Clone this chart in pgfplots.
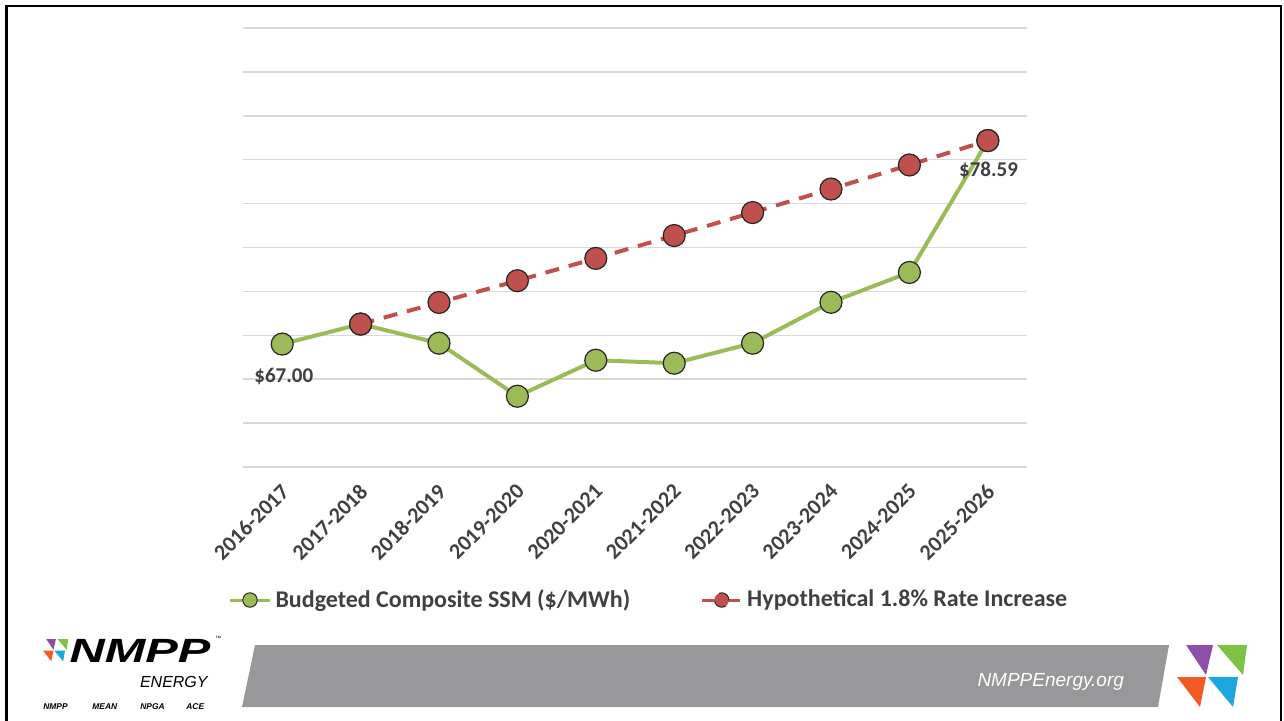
\documentclass[border=0pt]{standalone}
\usepackage{fontspec}
\setmainfont{Carlito}
\newfontfamily\arialfont{Liberation Sans}
\usepackage{pgfplots}
\pgfplotsset{compat=1.18}
\usepackage{pgfplotstable}

\definecolor{ssmgreen}{HTML}{9BBB59}
\definecolor{ratered}{HTML}{C0504D}
\definecolor{txtgray}{HTML}{404040}
\definecolor{gridgray}{HTML}{D9D9D9}
\definecolor{bannergray}{HTML}{98989A}
\definecolor{logopurple}{HTML}{8E4FA8}
\definecolor{logogreen}{HTML}{7DC242}
\definecolor{logoorange}{HTML}{F15A22}
\definecolor{logoblue}{HTML}{1BA6DE}

% budgeted composite SSM ($/MWh)
\pgfplotstableread{
x y
0 67.00
1 68.14
2 67.05
3 64.03
4 66.08
5 65.91
6 67.05
7 69.38
8 71.08
9 78.59
}\ssmdata

% hypothetical 1.8% yearly increase
\pgfplotstableread{
x y
1 68.14
2 69.37
3 70.61
4 71.88
5 73.18
6 74.49
7 75.83
8 77.20
9 78.59
}\ratedata

% four triangles of the logo, origin at top left, y down
\newcommand{\logotris}{%
  \fill[logopurple] (9,0) -- (36,0) -- (29,30) -- cycle;
  \fill[logogreen] (40,0) -- (70,0) -- (66,30) -- cycle;
  \fill[logoorange] (0,32) -- (29,32) -- (23,62) -- cycle;
  \fill[logoblue] (31,32) -- (61,32) -- (56,62) -- cycle;
}

\begin{document}
\begin{tikzpicture}
% page decorations, in pixels of the slide (y down)
\begin{scope}[x=0.5pt, y=-0.5pt]
  \useasboundingbox (0,0) rectangle (1284,721);
  \draw[line width=1.25pt] (6.5,721) -- (6.5,6) -- (1281,6) -- (1281,721);
  \fill[bannergray] (255,645) -- (1169,645) -- (1158,707) -- (242,707) -- cycle;
  \node[anchor=base east, text=white, font=\arialfont\itshape\fontsize{9.5}{11}\selectfont]
    at (1131,686) {NMPPEnergy.org};
  \begin{scope}[shift={(1177,645)}]
    \logotris
  \end{scope}
  \begin{scope}[shift={(43,639)}, scale=0.36]
    \logotris
  \end{scope}
  \node[anchor=base west, inner sep=0pt, xscale=1.45,
        font=\arialfont\bfseries\itshape\fontsize{16.8}{18}\selectfont]
    at (69,662) {NMPP};
  \node[anchor=base west, inner sep=0pt, font=\arialfont\fontsize{3}{3}\selectfont]
    at (215,640) {™};
  \node[anchor=base east, inner sep=0pt, font=\arialfont\itshape\fontsize{8}{9}\selectfont]
    at (208,687) {ENERGY};
  \foreach \nm/\xx in {NMPP/43, MEAN/92, NPGA/140, ACE/186}
    \node[anchor=base west, inner sep=0pt, font=\arialfont\bfseries\itshape\fontsize{4.2}{5}\selectfont]
      at (\xx,709) {\nm};
\end{scope}

\begin{axis}[
  at={(121.5pt,-233.5pt)}, anchor=south west,
  scale only axis, width=392pt, height=219.5pt,
  xmin=-0.5, xmax=9.5, ymin=60, ymax=85,
  axis line style={draw=none},
  xtick={0,...,9},
  xticklabels={2016-2017,2017-2018,2018-2019,2019-2020,2020-2021,2021-2022,2022-2023,2023-2024,2024-2025,2025-2026},
  xticklabel style={xshift=4pt, rotate=45, anchor=east, text=txtgray, font=\bfseries\fontsize{11}{12}\selectfont},
  xticklabel shift=8pt,
  ytick={60,62.5,...,85}, yticklabels={},
  major tick length=0pt,
  ymajorgrids, grid style={gridgray, line width=0.75pt},
  legend style={at={(0.519,-0.303)}, anchor=center, draw=none, fill=none,
    text=txtgray, font=\bfseries\fontsize{12}{14}\selectfont,
    /tikz/every even column/.append style={column sep=33pt}},
  legend columns=2, legend cell align=left,
  clip=false,
]
\addplot[ssmgreen, line width=2pt, mark=*, mark size=5.5pt,
  mark options={draw=black!85, fill=ssmgreen, line width=0.6pt},
  legend image code/.code={
    \draw[ssmgreen, line width=1.5pt] (0pt,0pt) -- (20pt,0pt);
    \draw[black!85, fill=ssmgreen, line width=0.5pt] (10pt,0pt) circle (3.6pt);}]
  table[x=x, y=y] {\ssmdata};
\addlegendentry{Budgeted Composite SSM (\$/MWh)}
\addplot[ratered, line width=2pt, dash pattern=on 7pt off 5pt, mark=*, mark size=5.5pt,
  mark options={solid, draw=black!85, fill=ratered, line width=0.6pt},
  legend image code/.code={
    \draw[ratered, line width=1.5pt] (0pt,0pt) -- (20pt,0pt);
    \draw[black!85, fill=ratered, line width=0.5pt] (10pt,0pt) circle (3.6pt);}]
  table[x=x, y=y] {\ratedata};
\addlegendentry{Hypothetical 1.8\% Rate Increase}
\node[text=txtgray, font=\bfseries\fontsize{10.5}{12}\selectfont] at (axis cs:0.02,65.17) {\$67.00};
\node[text=txtgray, font=\bfseries\fontsize{10.5}{12}\selectfont] at (axis cs:9.01,76.88) {\$78.59};
\end{axis}
\end{tikzpicture}
\end{document}
